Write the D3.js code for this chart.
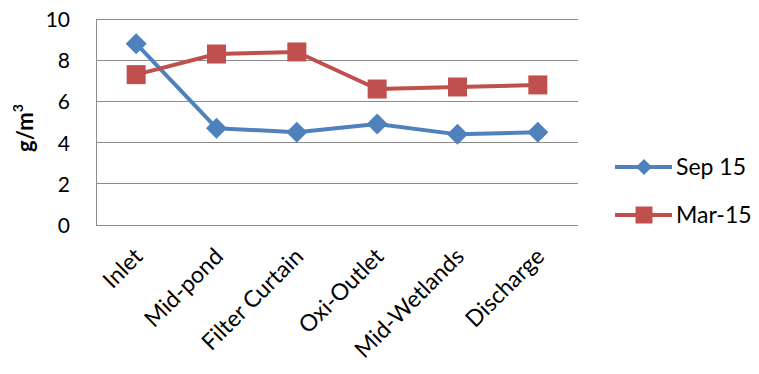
<!DOCTYPE html>
<html>
<head>
<meta charset="utf-8">
<script src="https://cdn.jsdelivr.net/npm/d3@7"></script>
<style>
  html, body { margin: 0; padding: 0; background: #fff; }
  svg { display: block; font-family: Lato, "Open Sans", sans-serif; }
</style>
</head>
<body>
<svg id="chart" width="759" height="374"></svg>
<script>
const sites = ["Inlet", "Mid-pond", "Filter Curtain", "Oxi-Outlet", "Mid-Wetlands", "Discharge"];
const sep15 = [8.8, 4.7, 4.5, 4.9, 4.4, 4.5];
const mar15 = [7.3, 8.3, 8.4, 6.6, 6.7, 6.8];
const yTicks = [0, 2, 4, 6, 8, 10];
const seriesNames = ["Sep 15", "Mar-15"];
const seriesColors = ["#4F81BD", "#C0504D"];

const svg = d3.select("#chart");
const plot = { left: 96, right: 578, top: 19, bottom: 225 };

const x = d3.scaleBand().domain(sites).range([plot.left, plot.right]);
const y = d3.scaleLinear().domain([0, 10]).range([plot.bottom, plot.top]);
const cx = d => x(d) + x.bandwidth() / 2;

// marker shapes: a square of side s, and a diamond with half-diagonal r
const squarePath = s => `M${-s / 2},${-s / 2}h${s}v${s}h${-s}Z`;
const diamondPath = r => `M0,${-r}L${r},0L0,${r}L${-r},0Z`;

// horizontal gridlines
svg.append("g")
  .selectAll("line")
  .data(yTicks.filter(t => t > 0))
  .join("line")
  .attr("x1", plot.left).attr("x2", plot.right)
  .attr("y1", d => y(d)).attr("y2", d => y(d))
  .attr("stroke", "#8c8c8c").attr("stroke-width", 1)
  .attr("shape-rendering", "crispEdges");

// left and bottom axis lines
svg.append("line")
  .attr("x1", plot.left).attr("x2", plot.left)
  .attr("y1", plot.top).attr("y2", plot.bottom)
  .attr("stroke", "#8c8c8c").attr("shape-rendering", "crispEdges");
svg.append("line")
  .attr("x1", plot.left).attr("x2", plot.right)
  .attr("y1", plot.bottom).attr("y2", plot.bottom)
  .attr("stroke", "#8c8c8c").attr("shape-rendering", "crispEdges");

// y tick labels
const yAxis = d3.axisLeft(y).tickValues(yTicks).tickSize(0).tickPadding(0);
const gy = svg.append("g").attr("transform", `translate(${plot.left - 26},0)`).call(yAxis);
gy.select(".domain").remove();
gy.selectAll("text")
  .style("font-family", "Lato, 'Open Sans', sans-serif")
  .style("font-size", "21px").attr("fill", "#000").attr("dy", "0.36em");

// y title
const yt = svg.append("text")
  .attr("transform", `translate(33,${(plot.top + plot.bottom) / 2 + 6}) rotate(-90)`)
  .attr("text-anchor", "middle")
  .style("font-size", "22px").attr("font-weight", "bold").attr("fill", "#000");
yt.append("tspan").text("g/m");
yt.append("tspan").style("font-size", "14px").attr("dy", "-0.75em").text("3");

// x labels, rotated
const xAxis = d3.axisBottom(x).tickSize(0).tickPadding(0);
const gx = svg.append("g").attr("transform", `translate(0,${plot.bottom})`).call(xAxis);
gx.select(".domain").remove();
gx.selectAll("text")
  .style("font-family", "Lato, 'Open Sans', sans-serif")
  .style("font-size", "23px").attr("fill", "#000")
  .attr("text-anchor", "end")
  .attr("dy", null).attr("y", 0)
  .attr("transform", "translate(8,33) rotate(-45)");

// series lines and markers
const line = d3.line().x((d, i) => cx(sites[i])).y(d => y(d));
const allSeries = [sep15, mar15];
const markerPath = [diamondPath(10.5), squarePath(19)];

allSeries.forEach((vals, si) => {
  const g = svg.append("g");
  g.append("path")
    .attr("d", line(vals))
    .attr("fill", "none")
    .attr("stroke", seriesColors[si])
    .attr("stroke-width", 4)
    .attr("stroke-linejoin", "round");
  g.selectAll("path.m")
    .data(vals)
    .join("path")
    .attr("class", "m")
    .attr("transform", (d, i) => `translate(${cx(sites[i])},${y(d)})`)
    .attr("d", markerPath[si])
    .attr("fill", seriesColors[si]);
});

// legend
const legY = [167, 215];
const legendMarker = [diamondPath(8), squarePath(17)];
seriesNames.forEach((name, i) => {
  const g = svg.append("g").attr("transform", `translate(615,${legY[i]})`);
  g.append("line").attr("x1", 0).attr("x2", 57)
    .attr("stroke", seriesColors[i]).attr("stroke-width", 4);
  g.append("path")
    .attr("transform", "translate(29,0)")
    .attr("d", legendMarker[i])
    .attr("fill", seriesColors[i]);
  g.append("text").attr("x", 61).attr("dy", "0.36em")
    .style("font-size", "23px").attr("fill", "#000").text(name);
});
</script>
</body>
</html>
